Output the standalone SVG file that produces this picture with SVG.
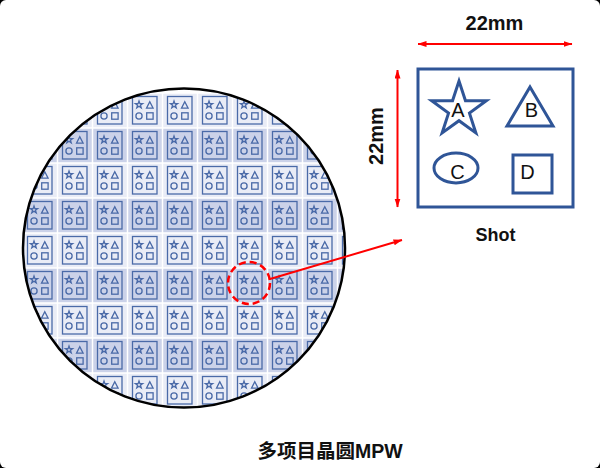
<svg xmlns="http://www.w3.org/2000/svg" xmlns:xlink="http://www.w3.org/1999/xlink" width="600" height="468" viewBox="0 0 600 468">
<style>
.chip{fill:none;stroke:#4a6aa8;stroke-width:1.3}
.shot{fill:none;stroke:#2f5597;stroke-width:3}
.lbl{font-family:"Liberation Sans",Arial,sans-serif;font-size:20px;fill:#111;text-anchor:middle}
.red{stroke:#ff0000;stroke-width:2;fill:none}
.t{font-family:"Liberation Sans","Noto Sans CJK SC",sans-serif;fill:#111;text-anchor:middle}
</style>
<defs>
<marker id="ah" markerUnits="userSpaceOnUse" markerWidth="9" markerHeight="7" refX="8.5" refY="3" orient="auto-start-reverse">
<path d="M0,0 L9,3 L0,6 z" fill="#ff0000"/>
</marker>
<g id="icon">
<rect class="chip" x="5" y="3.5" width="24.5" height="27.5"/>
<path class="chip" d="M11.5,8 L12.382,10.586 L15.114,10.626 L12.927,12.264 L13.734,14.874 L11.5,13.3 L9.266,14.874 L10.073,12.264 L7.886,10.626 L10.618,10.586 Z"/>
<path class="chip" d="M22.3,8.7 L25.6,15.2 L19,15.2 Z"/>
<circle class="chip" cx="11.5" cy="23" r="3.1"/>
<rect class="chip" x="19.2" y="19.8" width="6.4" height="6.4"/>
</g>
<g id="cD"><rect x="0.75" y="0.75" width="33.5" height="33.5" fill="#cbd2e9"/><use xlink:href="#icon"/></g>
<g id="cL"><rect x="0.75" y="0.75" width="33.5" height="33.5" fill="#e9ecf6"/><use xlink:href="#icon"/></g>
<g id="rowD">
<use xlink:href="#cD" x="0"/><use xlink:href="#cD" x="35"/><use xlink:href="#cD" x="70"/><use xlink:href="#cD" x="105"/><use xlink:href="#cD" x="140"/><use xlink:href="#cD" x="175"/><use xlink:href="#cD" x="210"/><use xlink:href="#cD" x="245"/><use xlink:href="#cD" x="280"/><use xlink:href="#cD" x="315"/>
</g>
<g id="rowL">
<use xlink:href="#cL" x="0"/><use xlink:href="#cL" x="35"/><use xlink:href="#cL" x="70"/><use xlink:href="#cL" x="105"/><use xlink:href="#cL" x="140"/><use xlink:href="#cL" x="175"/><use xlink:href="#cL" x="210"/><use xlink:href="#cL" x="245"/><use xlink:href="#cL" x="280"/><use xlink:href="#cL" x="315"/>
</g>
<clipPath id="wclip"><ellipse cx="184" cy="248" rx="161" ry="159.5"/></clipPath>
</defs>
<rect width="600" height="468" fill="#000"/>
<rect width="600" height="468" rx="6" fill="#fff"/>

<g id="wafer">
<ellipse cx="184" cy="248" rx="161" ry="159.5" fill="#fff"/>
<g clip-path="url(#wclip)">
<use xlink:href="#rowL" x="22.5" y="93"/>
<use xlink:href="#rowD" x="22.5" y="128"/>
<use xlink:href="#rowL" x="22.5" y="163"/>
<use xlink:href="#rowD" x="22.5" y="198"/>
<use xlink:href="#rowL" x="22.5" y="233"/>
<use xlink:href="#rowD" x="22.5" y="268"/>
<use xlink:href="#rowL" x="22.5" y="303"/>
<use xlink:href="#rowD" x="22.5" y="338"/>
<use xlink:href="#rowL" x="22.5" y="373"/>
</g>
<ellipse cx="184" cy="248" rx="161" ry="159.5" fill="none" stroke="#000" stroke-width="2.5"/>
<text class="t" x="330" y="458" font-size="19.5" font-weight="bold">多项目晶圆MPW</text>
</g>

<g id="highlight">
<circle cx="249" cy="283" r="21" fill="none" stroke="#ff0000" stroke-width="2.5" stroke-dasharray="7 4"/>
</g>

<g id="shot">
<rect class="shot" x="418" y="69" width="155" height="138"/>
<path class="shot" d="M459,81 L465.47,100.8 L486.3,100.83 L469.46,113.1 L475.87,132.92 L459,120.7 L442.13,132.92 L448.54,113.1 L431.7,100.83 L452.53,100.8 Z"/>
<text class="lbl" x="458" y="117">A</text>
<path class="shot" d="M530,87 L553,126 L507,126 Z"/>
<text class="lbl" x="531.5" y="117">B</text>
<ellipse class="shot" cx="456" cy="168" rx="22" ry="15"/>
<text class="lbl" x="457.5" y="178.5">C</text>
<rect class="shot" x="513" y="155" width="39" height="38"/>
<text class="lbl" x="527.5" y="178.5">D</text>
<text class="t" x="495.5" y="241" font-size="18" font-weight="bold">Shot</text>
<text class="t" x="494.5" y="30" font-size="20" font-weight="bold">22mm</text>
<text class="t" transform="translate(383,136) rotate(-90)" font-size="20" font-weight="bold">22mm</text>
</g>

<g id="connectors">
<line class="red" x1="418" y1="44" x2="572" y2="44" marker-start="url(#ah)" marker-end="url(#ah)"/>
<line class="red" x1="397.5" y1="70" x2="397.5" y2="207" marker-start="url(#ah)" marker-end="url(#ah)"/>
<line class="red" x1="270" y1="279" x2="402" y2="240" marker-end="url(#ah)"/>
</g>
</svg>
